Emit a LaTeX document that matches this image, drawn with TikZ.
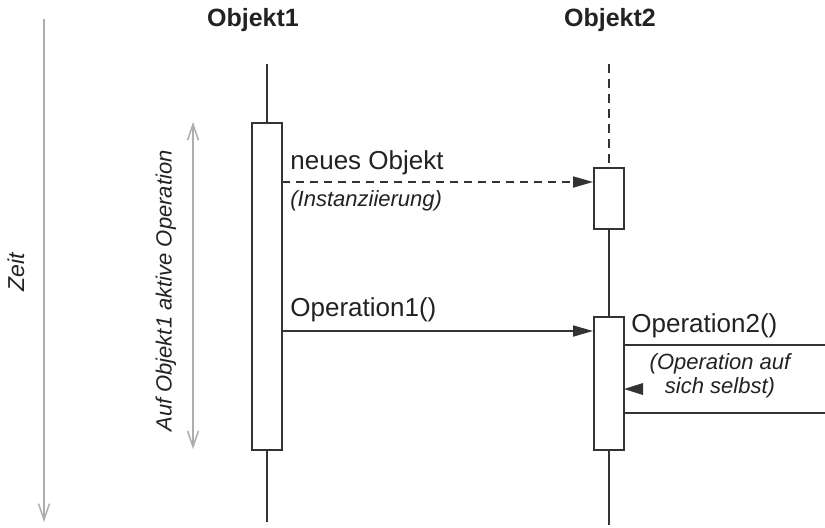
\documentclass[tikz,border=0pt]{standalone}
\usepackage{fontspec}
\setmainfont{Liberation Sans}
\usetikzlibrary{arrows.meta, positioning}
\definecolor{cline}{HTML}{333333}
\definecolor{cgray}{HTML}{ADADAD}
\definecolor{ctext}{HTML}{222222}

\begin{document}
\begin{tikzpicture}[x=0.5pt, y=-0.5pt,
    act/.style={rectangle, draw=cline, fill=white, line width=1pt, minimum width=15pt, inner sep=0pt},
    life/.style={draw=cline, line width=1pt},
    msg/.style={draw=cline, line width=0.9pt, -{Triangle[length=10pt, width=5.5pt]}},
    timeline/.style={draw=cgray, line width=0.75pt},
    lbl/.style={font=\fontsize{13}{15}\selectfont, text=ctext, inner sep=0pt},
    note/.style={font=\fontsize{11}{12}\selectfont\itshape, text=ctext, inner sep=0pt},
    title/.style={font=\fontsize{12.5}{15}\selectfont\bfseries, text=ctext, inner sep=0pt}]
    \path[fill=white, use as bounding box] (0,0) rectangle (825,527);
    \node (o1) [title] at (253,20) {Objekt1};
    \node (o2) [title] at (610,20) {Objekt2};
    \coordinate (top1) at (267,64);
    \coordinate (end1) at (267,522);
    \coordinate (top2) at (609,64);
    \coordinate (end2) at (609,525);
    \node (actI) [act, minimum height=163.5pt, anchor=north] at (267,122) {};
    \node (newobj) [act, minimum height=30.5pt, anchor=north] at (609,167) {};
    \node (opII) [act, minimum height=66.5pt, anchor=north] at (609,316) {};
    \draw[life] (top1) -- (actI.north);
    \draw[life] (actI.south) -- (end1);
    \draw[life, dash pattern=on 4.5pt off 3pt] (top2) -- (newobj.north);
    \draw[life] (newobj.south) -- (opII.north);
    \draw[life] (opII.south) -- (end2);
    \coordinate (m1) at (282,182);
    \coordinate (m2) at (282,331);
    \draw[msg, dash pattern=on 4pt off 3pt] (m1) -- (m1 -| newobj.west);
    \draw[msg] (m2) -- (m2 -| opII.west);
    \node (lnew) [lbl, anchor=base west] at (290,169) {neues Objekt};
    \node (linst) [note, anchor=base west] at (290,206) {(Instanziierung)};
    \node (lop1) [lbl, anchor=base west] at (290,316) {Operation1()};
    \node (lop2) [lbl, anchor=base west] at (631,332) {Operation2()};
    \coordinate (s1) at (825,345);
    \coordinate (s2) at (825,413);
    \draw[life] (opII.east |- s1) -- (s1);
    \draw[life] (opII.east |- s2) -- (s2);
    \coordinate (sret) at (624,389);
    \fill[cline] (sret) -- ++(19,-6) -- ++(0,12) -- cycle;
    \node (lself) [note, align=center] at (720,376) {(Operation auf\\sich selbst)};
    \coordinate (zt) at (44,19);
    \coordinate (zb) at (44,522);
    \draw[timeline, -{Straight Barb[length=8pt, width=5.5pt]}] (zt) -- (zb);
    \node (lzeit) [note, font=\fontsize{11.5}{13}\selectfont\itshape, rotate=90] at (16,272) {Zeit};
    \coordinate (at) at (193,122);
    \coordinate (ab) at (193,449);
    \draw[timeline, {Straight Barb[length=8pt, width=5.5pt]}-{Straight Barb[length=8pt, width=5.5pt]}] (at) -- (ab);
    \node (lakt) [note, rotate=90] at (166,291) {Auf Objekt1 aktive Operation};
\end{tikzpicture}
\end{document}
